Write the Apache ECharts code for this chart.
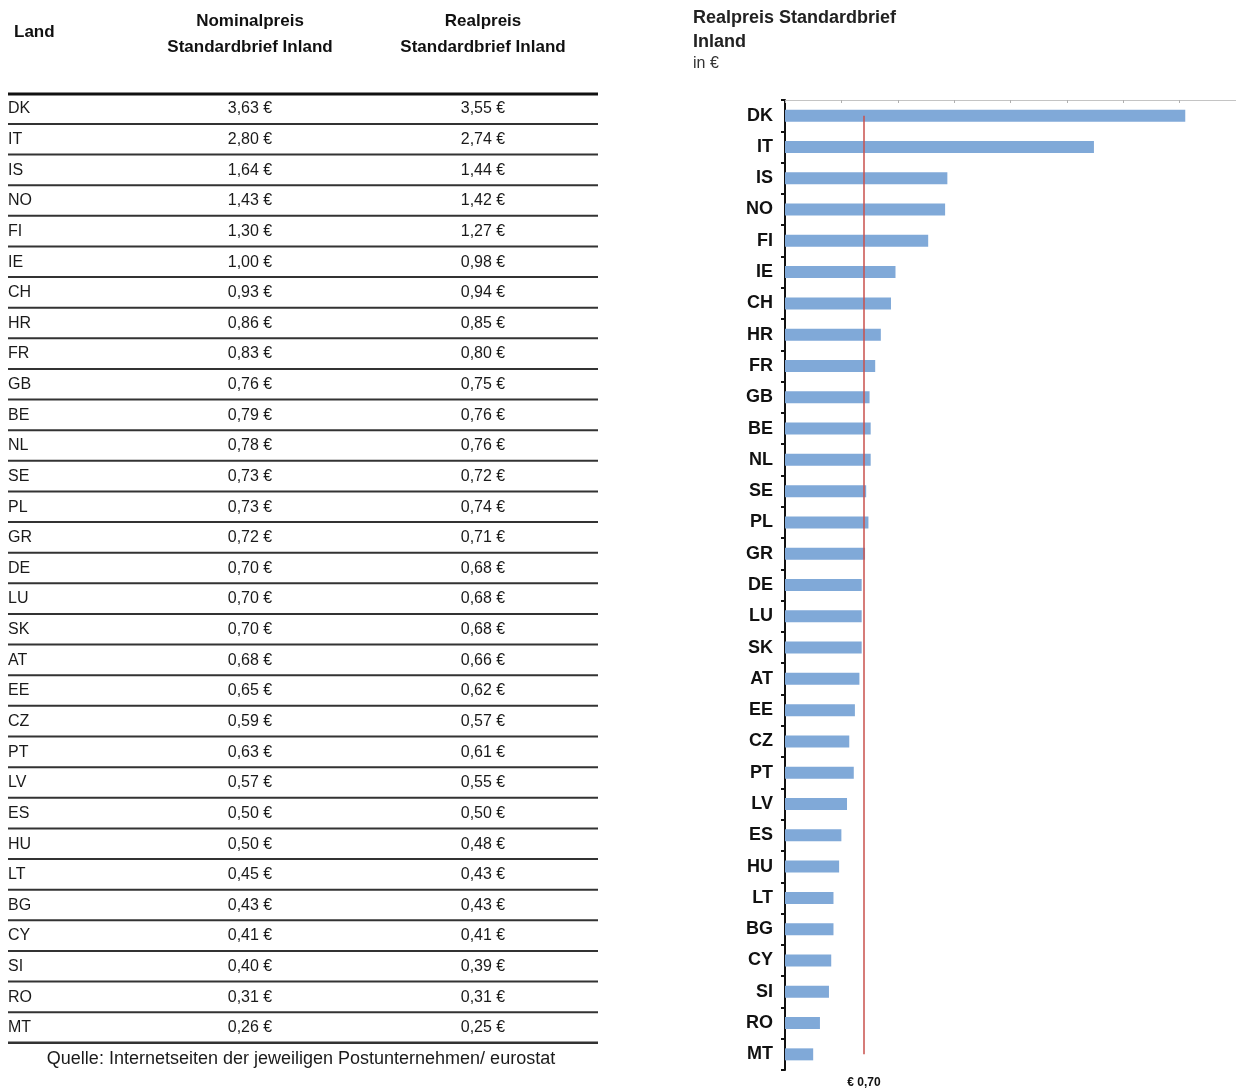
<!DOCTYPE html>
<html>
<head>
<meta charset="utf-8">
<script src="https://cdn.jsdelivr.net/npm/echarts@6/dist/echarts.min.js"></script>
<style>
  html, body { margin: 0; padding: 0; background: #fff; }
  #main { width: 1236px; height: 1089px; }
</style>
</head>
<body>
<div id="main"></div>
<script>
// Porto für einen Standardbrief im Inland, nach Land
const countries = ['DK','IT','IS','NO','FI','IE','CH','HR','FR','GB','BE','NL','SE','PL','GR','DE','LU','SK','AT','EE','CZ','PT','LV','ES','HU','LT','BG','CY','SI','RO','MT'];
const nominalPrice = [3.63,2.80,1.64,1.43,1.30,1.00,0.93,0.86,0.83,0.76,0.79,0.78,0.73,0.73,0.72,0.70,0.70,0.70,0.68,0.65,0.59,0.63,0.57,0.50,0.50,0.45,0.43,0.41,0.40,0.31,0.26];
const realPrice = [3.55,2.74,1.44,1.42,1.27,0.98,0.94,0.85,0.80,0.75,0.76,0.76,0.72,0.74,0.71,0.68,0.68,0.68,0.66,0.62,0.57,0.61,0.55,0.50,0.48,0.43,0.43,0.41,0.39,0.31,0.25];
const referencePrice = 0.70;
const tableHeaders = ['Land', 'Nominalpreis\nStandardbrief Inland', 'Realpreis\nStandardbrief Inland'];
const chartTitle = 'Realpreis Standardbrief\nInland';
const chartUnit = 'in €';
const sourceNote = 'Quelle: Internetseiten der jeweiligen Postunternehmen/ eurostat';

const FONT = '"Liberation Sans", Arial, sans-serif';
const euro = v => v.toFixed(2).replace('.', ',') + ' €';

// --- Tabelle links ---
const rowTop = 109, rowPitch = 30.63;
const tableLeft = 8, tableRight = 598;
const colNominal = 250, colReal = 483;
const tableEls = [];

tableEls.push({ type: 'text', left: 14, top: 24, style: { text: tableHeaders[0], font: 'bold 17px ' + FONT, fill: '#111' } });
[[colNominal, tableHeaders[1]], [colReal, tableHeaders[2]]].forEach(([cx, t]) => {
  tableEls.push({ type: 'text', x: cx, y: 8, style: { text: t, font: 'bold 17px ' + FONT, fill: '#111', align: 'center', lineHeight: 26 } });
});
tableEls.push({ type: 'line', shape: { x1: tableLeft, y1: 94, x2: tableRight, y2: 94 }, style: { stroke: '#111', lineWidth: 3 } });

countries.forEach((c, i) => {
  const y = rowTop + i * rowPitch;
  tableEls.push({ type: 'text', x: tableLeft, y: y, style: { text: c, font: '16px ' + FONT, fill: '#1a1a1a', verticalAlign: 'middle' } });
  tableEls.push({ type: 'text', x: colNominal, y: y, style: { text: euro(nominalPrice[i]), font: '16px ' + FONT, fill: '#1a1a1a', align: 'center', verticalAlign: 'middle' } });
  tableEls.push({ type: 'text', x: colReal, y: y, style: { text: euro(realPrice[i]), font: '16px ' + FONT, fill: '#1a1a1a', align: 'center', verticalAlign: 'middle' } });
  const ly = y + 14.9;
  tableEls.push({ type: 'line', shape: { x1: tableLeft, y1: ly, x2: tableRight, y2: ly }, style: { stroke: '#333', lineWidth: i === countries.length - 1 ? 2.5 : 2 } });
});
tableEls.push({ type: 'text', x: 301, y: 1059, style: { text: sourceNote, font: '18px ' + FONT, fill: '#1a1a1a', align: 'center', verticalAlign: 'middle' } });

// --- Diagramm rechts ---
tableEls.push({ type: 'text', left: 693, top: 6, style: { text: chartTitle, font: 'bold 18px ' + FONT, fill: '#222', lineHeight: 24 } });
tableEls.push({ type: 'text', left: 693, top: 56, style: { text: chartUnit, font: '16px ' + FONT, fill: '#333' } });

const chart = echarts.init(document.getElementById('main'), null, { renderer: 'canvas' });
chart.setOption({
  backgroundColor: '#fff',
  animation: false,
  graphic: tableEls,
  grid: { left: 785, right: 0, top: 100, bottom: 19, containLabel: false },
  xAxis: {
    type: 'value', position: 'top', min: 0, max: 4, interval: 0.5,
    axisLine: { show: true, lineStyle: { color: '#c4c4c4', width: 1 } },
    axisTick: { show: true, inside: true, length: 3, lineStyle: { color: '#b0b0b0' } },
    axisLabel: { show: false },
    splitLine: { show: false }
  },
  yAxis: {
    type: 'category', data: countries, inverse: true,
    axisLine: { show: true, lineStyle: { color: '#111', width: 2 } },
    axisTick: { show: true, length: 4, lineStyle: { color: '#111', width: 2 } },
    axisLabel: { color: '#111', fontFamily: FONT, fontWeight: 'bold', fontSize: 18, margin: 12 },
    splitLine: { show: false }
  },
  series: [{
    type: 'bar', data: realPrice, barWidth: 12,
    itemStyle: { color: '#80a9d8' },
    markLine: {
      silent: true, symbol: 'none',
      lineStyle: { color: '#c9504c', width: 1.5, type: 'solid' },
      label: { show: true, position: 'end', distance: 22, formatter: '€ 0,70', color: '#111', fontFamily: FONT, fontWeight: 'bold', fontSize: 12 },
      data: [[{ coord: [referencePrice, countries[0]] }, { coord: [referencePrice, countries[countries.length - 1]] }]]
    }
  }]
});
</script>
</body>
</html>
